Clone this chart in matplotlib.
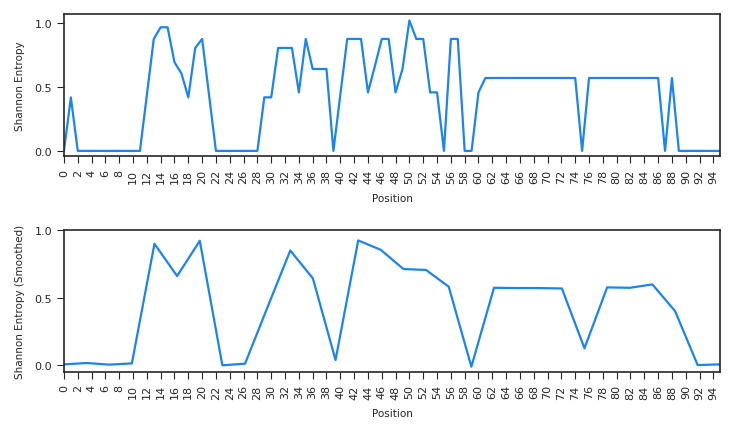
import matplotlib
matplotlib.use("Agg")
from matplotlib import pyplot as plt
import numpy as np
import seaborn as sns

# raw entropy per position
positions = list(range(96))
entropy = [0.0, 0.417, 0.0, 0.0, 0.0, 0.0, 0.0, 0.0, 0.0, 0.0,
           0.0, 0.0, 0.435, 0.872, 0.963, 0.963, 0.69, 0.604, 0.417, 0.802,
           0.872, 0.436, 0.0, 0.0, 0.0, 0.0, 0.0, 0.0, 0.0, 0.417,
           0.417, 0.802, 0.802, 0.802, 0.456, 0.872, 0.638, 0.638, 0.638, 0.0,
           0.436, 0.872, 0.872, 0.872, 0.456, 0.66, 0.872, 0.872, 0.456, 0.638,
           1.016, 0.872, 0.872, 0.456, 0.456, 0.0, 0.872, 0.872, 0.0, 0.0,
           0.456, 0.568, 0.568, 0.568, 0.568, 0.568, 0.568, 0.568, 0.568, 0.568,
           0.568, 0.568, 0.568, 0.568, 0.568, 0.0, 0.568, 0.568, 0.568, 0.568,
           0.568, 0.568, 0.568, 0.568, 0.568, 0.568, 0.568, 0.0, 0.568, 0.0,
           0.0, 0.0, 0.0, 0.0, 0.0, 0.0]

# smoothed entropy
smooth_pos = [0.0, 3.28, 6.55, 9.83, 13.1, 16.38, 19.66, 22.93, 26.21, 29.48,
              32.76, 36.03, 39.31, 42.59, 45.86, 49.14, 52.41, 55.69, 58.97, 62.24,
              65.52, 68.79, 72.07, 75.34, 78.62, 81.9, 85.17, 88.45, 91.72, 95.0]
smooth_val = [0.005, 0.015, 0.003, 0.012, 0.898, 0.659, 0.92, -0.002, 0.01, 0.43,
              0.848, 0.642, 0.037, 0.923, 0.853, 0.711, 0.704, 0.58, -0.012, 0.572,
              0.57, 0.57, 0.567, 0.124, 0.575, 0.572, 0.597, 0.40, 0.0, 0.005]

line_color = '#1a85f0'

sns.set_style('ticks')
plt.rcParams['font.family'] = ['DejaVu Sans']

fig = plt.figure(figsize=(7.35, 4.35), dpi=100)
ax1 = fig.add_axes([0.087, 0.639, 0.893, 0.327])
ax2 = fig.add_axes([0.087, 0.143, 0.893, 0.326])

ax1.plot(positions, entropy, color=line_color, linewidth=1.6)
ax1.set_xlim(0, 95)
ax1.set_ylim(-0.04, 1.068)
ax1.set_ylabel('Shannon Entropy', fontsize=7.5, labelpad=7)

ax2.plot(smooth_pos, smooth_val, color=line_color, linewidth=1.6)
ax2.set_xlim(0, 95)
ax2.set_ylim(-0.05, 1.0)
ax2.set_ylabel('Shannon Entropy (Smoothed)', fontsize=7.5, labelpad=7)

for ax in (ax1, ax2):
    ax.set_xticks(np.arange(0, 96, 2))
    ax.set_yticks([0.0, 0.5, 1.0])
    ax.tick_params(axis='x', labelrotation=90, labelsize=8, length=5, pad=4)
    ax.tick_params(axis='y', labelsize=8, length=5)
    ax.set_xlabel('Position', fontsize=7.5, labelpad=7)
    for s in ax.spines.values():
        s.set_linewidth(1.2)

plt.savefig('out.png', dpi=100)
